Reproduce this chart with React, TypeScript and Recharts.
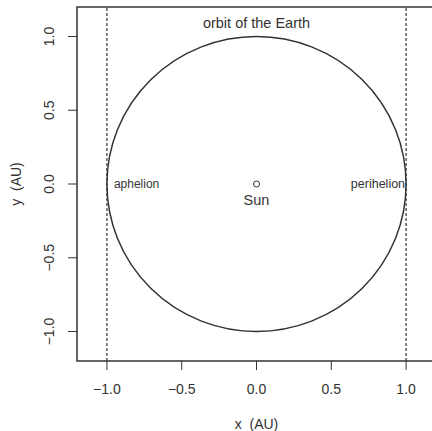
import {
  ReferenceArea,
  ReferenceDot,
  ReferenceLine,
  Scatter,
  ScatterChart,
  XAxis,
  YAxis,
} from "recharts";

// axis ticks (AU)
const xTicks = [-1, -0.5, 0, 0.5, 1];
const yTicks = [-1, -0.5, 0, 0.5, 1];
const axisDomain = [-1.2, 1.2];

// circular orbit of the Earth, centred on the Sun
const orbitCenter = { x: 0, y: 0 };
const orbitRadius = 1;

// aphelion / perihelion x positions
const apsides = [-1, 1];

const sun = [{ x: 0, y: 0 }];

const titleLabel = { text: "orbit of the Earth", x: 0, y: 1.09 };
const aphelionLabel = { text: "aphelion", x: -1, y: 0 };
const perihelionLabel = { text: "perihelion", x: 1, y: 0 };
const sunLabel = { text: "Sun", x: 0, y: -0.11 };

const ink = "#333";
const font = "'Liberation Sans', Arial, sans-serif";

const fmt = (v: number) => v.toFixed(1).replace("-", "\u2212");

export default function App() {
  return (
    <div
      style={{
        position: "absolute",
        left: 0,
        top: 0,
        width: 432,
        height: 431,
        overflow: "hidden",
        background: "#fff",
        fontFamily: font,
      }}
    >
      <ScatterChart
        width={440}
        height={431}
        margin={{ top: 7, right: 4, left: 0, bottom: 0 }}
      >
        <XAxis
          type="number"
          dataKey="x"
          domain={axisDomain}
          ticks={xTicks}
          allowDataOverflow
          axisLine={false}
          tickLine={{ stroke: ink }}
          tickSize={9}
          tickMargin={14}
          tickFormatter={fmt}
          tick={{ fontSize: 14, fill: ink, fontFamily: font }}
          height={70}
          label={{
            content: ({ viewBox }: any) => (
              <text
                x={viewBox.x + viewBox.width / 2}
                y={viewBox.y + viewBox.height - 2}
                textAnchor="middle"
                fontSize={14}
                fill={ink}
                fontFamily={font}
              >
                {"x\u00a0 (AU)"}
              </text>
            ),
          }}
        />
        <YAxis
          type="number"
          dataKey="y"
          domain={axisDomain}
          ticks={yTicks}
          allowDataOverflow
          axisLine={false}
          tickLine={{ stroke: ink }}
          tickSize={9}
          tickMargin={14}
          width={77}
          tick={(p: any) => (
            <text
              x={p.x}
              y={p.y}
              transform={`rotate(-90, ${p.x}, ${p.y})`}
              textAnchor="middle"
              fontSize={14}
              fill={ink}
              fontFamily={font}
            >
              {fmt(p.payload.value)}
            </text>
          )}
          label={{
            content: ({ viewBox }: any) => {
              const cx = 21;
              const cy = viewBox.y + viewBox.height / 2;
              return (
                <text
                  x={cx}
                  y={cy}
                  transform={`rotate(-90, ${cx}, ${cy})`}
                  textAnchor="middle"
                  fontSize={14}
                  fill={ink}
                  fontFamily={font}
                >
                  {"y\u00a0 (AU)"}
                </text>
              );
            },
          }}
        />
        {/* plot box */}
        <ReferenceArea
          x1={axisDomain[0]}
          x2={axisDomain[1]}
          y1={axisDomain[0]}
          y2={axisDomain[1]}
          fill="none"
          stroke={ink}
          strokeWidth={1.5}
          ifOverflow="visible"
        />
        {/* orbit: ellipse inscribed in the scaled bounding box */}
        <ReferenceArea
          x1={orbitCenter.x - orbitRadius}
          x2={orbitCenter.x + orbitRadius}
          y1={orbitCenter.y - orbitRadius}
          y2={orbitCenter.y + orbitRadius}
          ifOverflow="visible"
          shape={(p: any) => (
            <ellipse
              cx={p.x + p.width / 2}
              cy={p.y + p.height / 2}
              rx={p.width / 2}
              ry={p.height / 2}
              fill="none"
              stroke={ink}
              strokeWidth={1.5}
            />
          )}
        />
        {apsides.map((x) => (
          <ReferenceLine
            key={x}
            x={x}
            stroke={ink}
            strokeWidth={1.2}
            strokeDasharray="3 2"
          />
        ))}
        <Scatter
          data={sun}
          isAnimationActive={false}
          shape={(p: any) => (
            <circle cx={p.cx} cy={p.cy} r={3} fill="#fff" stroke={ink} strokeWidth={1} />
          )}
        />
        <ReferenceDot
          x={titleLabel.x}
          y={titleLabel.y}
          shape={(p: any) => (
            <text x={p.cx} y={p.cy} dy={5} textAnchor="middle" fontSize={14.5} fill={ink} fontFamily={font}>
              {titleLabel.text}
            </text>
          )}
        />
        <ReferenceDot
          x={aphelionLabel.x}
          y={aphelionLabel.y}
          shape={(p: any) => (
            <text x={p.cx} y={p.cy} dx={7} dy={4} textAnchor="start" fontSize={12} fill={ink} fontFamily={font}>
              {aphelionLabel.text}
            </text>
          )}
        />
        <ReferenceDot
          x={perihelionLabel.x}
          y={perihelionLabel.y}
          shape={(p: any) => (
            <text x={p.cx} y={p.cy} dx={-1} dy={4} textAnchor="end" fontSize={12.5} fill={ink} fontFamily={font}>
              {perihelionLabel.text}
            </text>
          )}
        />
        <ReferenceDot
          x={sunLabel.x}
          y={sunLabel.y}
          shape={(p: any) => (
            <text x={p.cx} y={p.cy} dy={5} textAnchor="middle" fontSize={14.5} fill={ink} fontFamily={font}>
              {sunLabel.text}
            </text>
          )}
        />
      </ScatterChart>
    </div>
  );
}
